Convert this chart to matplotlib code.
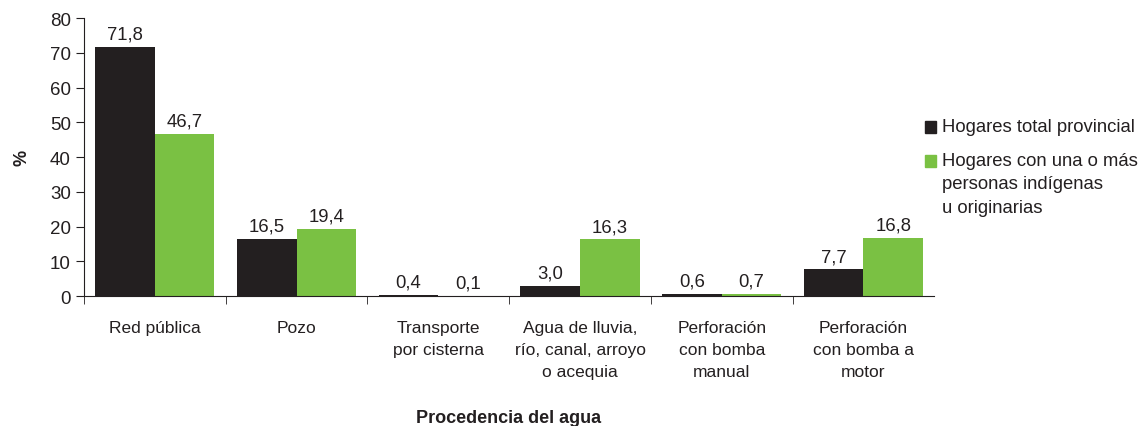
import matplotlib.pyplot as plt
import matplotlib.patches as mpatches
import numpy as np

categories = ['Red pública', 'Pozo', 'Transporte\npor cisterna',
              'Agua de lluvia,\nrío, canal, arroyo\no acequia',
              'Perforación\ncon bomba\nmanual', 'Perforación\ncon bomba a\nmotor']
total_provincial = [71.8, 16.5, 0.4, 3.0, 0.6, 7.7]
indigenas = [46.7, 19.4, 0.1, 16.3, 0.7, 16.8]
series_labels = ['Hogares total provincial',
                 'Hogares con una o más\npersonas indígenas\nu originarias']
colors = ['#231F20', '#7AC143']

plt.rcParams['font.family'] = ['Liberation Sans', 'DejaVu Sans']
text_col = '#231F20'

fig = plt.figure(figsize=(11.42, 4.27), dpi=100)
ax = fig.add_axes([0.0736, 0.3044, 0.7445, 0.651])

x = np.arange(len(categories))
w = 0.42
for i, (vals, col) in enumerate(zip([total_provincial, indigenas], colors)):
    bars = ax.bar(x + (i - 0.5) * w, vals, w, color=col)
    for b, v in zip(bars, vals):
        ax.annotate(f'{v:.1f}'.replace('.', ','),
                    (b.get_x() + b.get_width() / 2, v),
                    xytext=(0, 3), textcoords='offset points',
                    ha='center', va='bottom', fontsize=13.3, color=text_col)

ax.set_xlim(-0.5, 5.5)
ax.set_ylim(0, 80)
ax.set_yticks(range(0, 81, 10))
ax.set_xticks(x)
ax.set_xticklabels(categories, linespacing=1.6, va='top', fontsize=12.5, color=text_col)
ax.set_xticks(np.arange(-0.5, 5.0, 1.0), minor=True)
ax.tick_params(axis='x', which='major', length=0, pad=17)
ax.tick_params(axis='x', which='minor', length=6, color=text_col)
ax.tick_params(axis='y', length=6, color=text_col, labelsize=13.5, labelcolor=text_col)
for s in ['top', 'right']:
    ax.spines[s].set_visible(False)
for s in ['left', 'bottom']:
    ax.spines[s].set_color(text_col)

ax.set_ylabel('%', fontweight='bold', fontsize=13, labelpad=14, color=text_col)
fig.text(509 / 1142, 8 / 427, 'Procedencia del agua', fontweight='bold',
         fontsize=13, ha='center', va='center', color=text_col)

# legend drawn by hand so the square sits on the first text line
leg_x = 942 / 1142
leg_y = [128, 162]
for lab, col, yy in zip(series_labels, colors, leg_y):
    fy = 1 - yy / 427
    fig.patches.append(mpatches.Rectangle((925 / 1142, fy - 6 / 427), 11 / 1142, 12 / 427,
                                          transform=fig.transFigure, color=col))
    fig.text(leg_x, fy + 9 / 427, lab, fontsize=13.3, ha='left', va='top',
             linespacing=1.5, color=text_col)

fig.savefig('out.png', dpi=100)
